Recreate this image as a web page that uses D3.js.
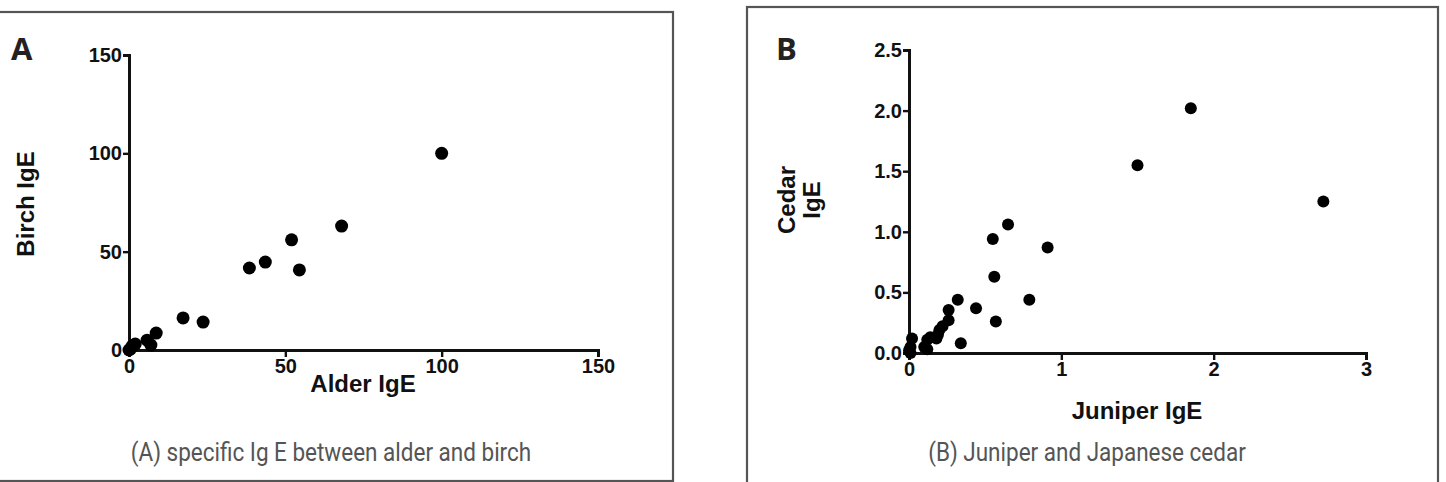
<!DOCTYPE html>
<html>
<head>
<meta charset="utf-8">
<script src="https://cdn.jsdelivr.net/npm/d3@7"></script>
<style>
  html, body { margin: 0; padding: 0; background: #ffffff; }
  svg { display: block; }
  .tick text { font-family: "Liberation Sans", Arial, sans-serif; font-weight: bold; font-size: 20px; fill: #111; }
  .axislbl { font-family: "Liberation Sans", Arial, sans-serif; font-weight: bold; font-size: 24px; fill: #111; }
  .panel { font-family: "Open Sans", "Liberation Sans", sans-serif; font-weight: bold; font-size: 31px; fill: #222; }
  .caption { font-family: "Roboto", "Liberation Sans", sans-serif; font-size: 25px; fill: #555; }
</style>
</head>
<body>
<svg id="chart" width="1446" height="482"></svg>
<script>
// Panel A: specific IgE, alder vs birch
const alderIgE = [100, 68, 52, 54.5, 43.6, 38.5, 17.3, 23.7, 8.7, 5.8, 7, 1, 0, 0.5, 2];
const birchIgE = [100, 63, 56, 40.7, 44.7, 41.7, 16.3, 14.2, 8.6, 5, 2.5, 2, 0, 0.5, 3];
const ticksA_x = [0, 50, 100, 150];
const ticksA_y = [0, 50, 100, 150];

// Panel B: juniper vs Japanese cedar
const juniperIgE = [1.85, 1.50, 2.72, 0.65, 0.55, 0.91, 0.56, 0.79, 0.57, 0.44, 0.32, 0.34,
                    0.26, 0.26, 0.22, 0.20, 0.19, 0.18, 0.14, 0.12, 0.12, 0.10, 0.02, 0.01, 0.01, 0.0];
const cedarIgE   = [2.02, 1.55, 1.25, 1.06, 0.94, 0.87, 0.63, 0.44, 0.26, 0.37, 0.44, 0.08,
                    0.355, 0.27, 0.22, 0.19, 0.15, 0.12, 0.13, 0.11, 0.03, 0.05, 0.12, 0.05, 0.0, 0.02];
const ticksB_x = [0, 1, 2, 3];
const ticksB_y = [0.0, 0.5, 1.0, 1.5, 2.0, 2.5];

const svg = d3.select("#chart");

// frames
svg.append("rect").attr("x", -5).attr("y", 12).attr("width", 678).attr("height", 469)
  .attr("fill", "none").attr("stroke", "#555").attr("stroke-width", 2.2);
svg.append("rect").attr("x", 747).attr("y", 7).attr("width", 691).attr("height", 500)
  .attr("fill", "none").attr("stroke", "#555").attr("stroke-width", 2.2);

function panel(cfg) {
  const g = svg.append("g");
  const x = d3.scaleLinear().domain(cfg.xdom).range([cfg.x0, cfg.x1]);
  const y = d3.scaleLinear().domain(cfg.ydom).range([cfg.y0, cfg.y1]);

  const xa = g.append("g").attr("transform", `translate(0,${cfg.y0})`)
    .call(d3.axisBottom(x).tickValues(cfg.xticks).tickFormat(cfg.xfmt).tickSizeOuter(0).tickSize(7).tickPadding(2));
  const ya = g.append("g").attr("transform", `translate(${cfg.x0},0)`)
    .call(d3.axisLeft(y).tickValues(cfg.yticks).tickFormat(cfg.yfmt).tickSizeOuter(0).tickSize(6).tickPadding(1));
  [xa, ya].forEach(a => {
    a.select(".domain").attr("stroke", "#111").attr("stroke-width", 3);
    a.selectAll(".tick line").attr("stroke", "#111").attr("stroke-width", 2.4);
  });

  g.selectAll("circle").data(cfg.xs.map((v, i) => [v, cfg.ys[i]])).join("circle")
    .attr("cx", d => x(d[0])).attr("cy", d => y(d[1])).attr("r", cfg.r).attr("fill", "#000");

  g.append("text").attr("class", "axislbl").attr("x", cfg.xlblX).attr("y", cfg.xlblY)
    .attr("text-anchor", "middle").text(cfg.xlabel);
  cfg.ylabel.forEach((t, i) => {
    g.append("text").attr("class", "axislbl")
      .attr("transform", `translate(${cfg.ylblX[i]},${cfg.ylblYc}) rotate(-90)`)
      .attr("text-anchor", "middle").text(t);
  });
  g.append("text").attr("class", "panel").attr("x", cfg.pX).attr("y", cfg.pY).text(cfg.panelLetter);
  g.append("text").attr("class", "caption")
    .attr("transform", `translate(${cfg.capX},${cfg.capY}) scale(0.9,1)`)
    .attr("text-anchor", "middle").text(cfg.caption);
}

panel({
  xs: alderIgE, ys: birchIgE, xdom: [0, 150], ydom: [0, 150],
  x0: 129, x1: 598, y0: 350, y1: 55,
  xticks: ticksA_x, yticks: ticksA_y, xfmt: d3.format("d"), yfmt: d3.format("d"),
  r: 6.5, xlabel: "Alder IgE", xlblX: 363, xlblY: 392, ylabel: ["Birch IgE"], ylblX: [34], ylblYc: 204,
  panelLetter: "A", pX: 11, pY: 60, caption: "(A) specific Ig E between alder and birch", capX: 331, capY: 461
});

panel({
  xs: juniperIgE, ys: cedarIgE, xdom: [0, 3], ydom: [0, 2.5],
  x0: 909, x1: 1366, y0: 353, y1: 50,
  xticks: ticksB_x, yticks: ticksB_y, xfmt: d3.format("d"), yfmt: d3.format(".1f"),
  r: 6, xlabel: "Juniper IgE", xlblX: 1137, xlblY: 419, ylabel: ["Cedar", "IgE"], ylblX: [795, 820], ylblYc: 200,
  panelLetter: "B", pX: 776, pY: 60, caption: "(B) Juniper and Japanese cedar", capX: 1087, capY: 461
});
</script>
</body>
</html>
